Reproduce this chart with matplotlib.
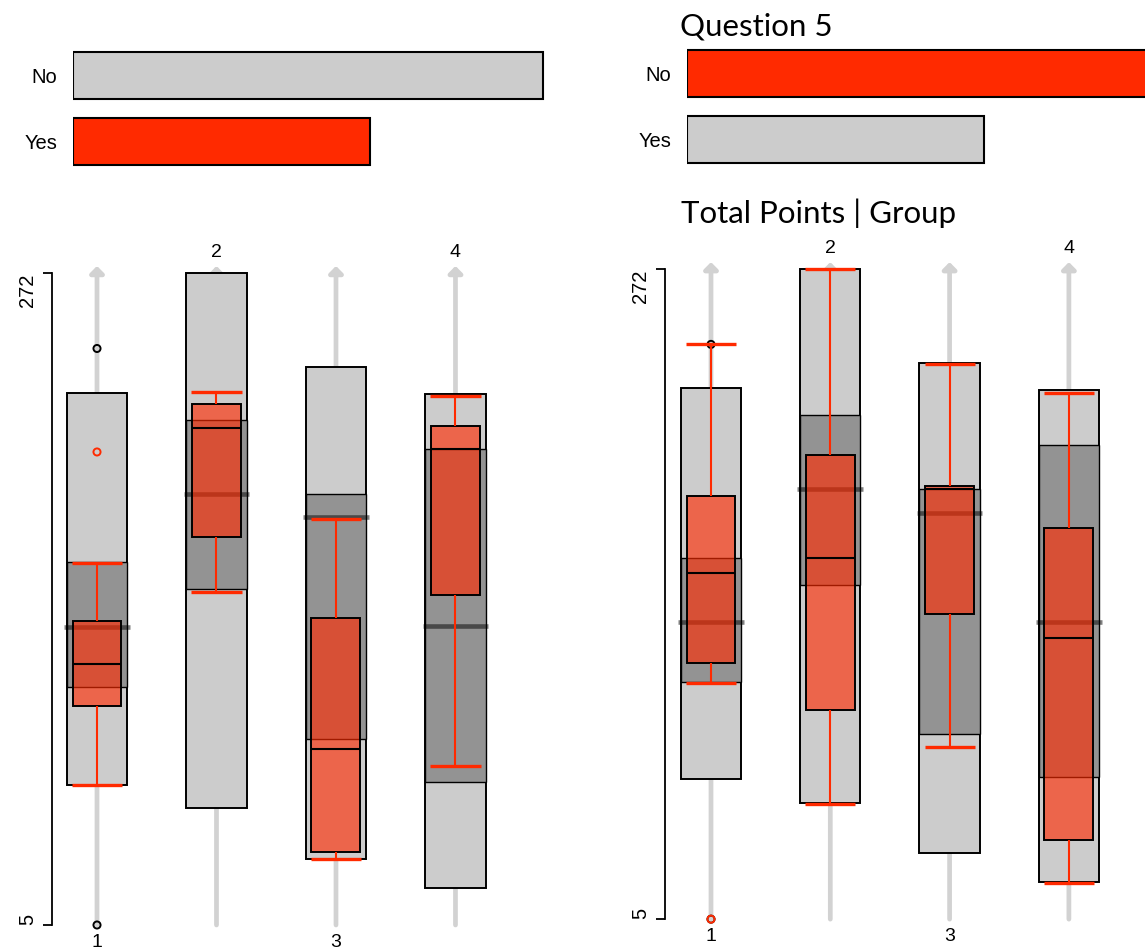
import numpy as np
import matplotlib.pyplot as plt

plt.rcParams['font.family'] = ['Liberation Sans', 'DejaVu Sans']

# Question 5 answer counts
answers = ["Yes", "No"]
answer_counts = [12, 19]

groups = [1, 2, 3, 4]
group_labels = ["1", "2", "3", "4"]

# Total Points by group, all respondents (whisker ends, quartiles, median)
all_low = [62.5, 52.8, 32.1, 20.2]
all_q1 = [102.6, 142.5, 81.0, 63.4]
all_med = [127.2, 181.7, 172.1, 127.3]
all_q3 = [153.6, 212.1, 181.6, 200.0]
all_high = [223.1, 272.0, 233.6, 222.5]
all_out = [[241.2, 5.0], [], [], []]

# respondents answering "Yes"
yes_low = [62.4, 141.6, 31.9, 70.3]
yes_q1 = [94.7, 164.1, 34.8, 140.2]
yes_med = [112.1, 208.7, 77.1, 199.9]
yes_q3 = [129.7, 218.3, 130.6, 209.6]
yes_high = [153.4, 223.5, 171.5, 221.8]
yes_out = [[198.8], [], [], []]

# respondents answering "No"
no_low = [101.9, 52.3, 75.7, 19.7]
no_q1 = [110.3, 91.1, 130.4, 37.4]
no_med = [147.1, 153.5, 181.8, 120.7]
no_q3 = [179.1, 195.9, 183.2, 165.7]
no_high = [241.3, 272.0, 233.3, 221.4]
no_out = [[5.0], [], [], []]

y_min, y_max = 5, 272

RED = '#ff2a00'
RED_BOX = (1.0, 0.165, 0.0, 0.63)
LIGHT = '#cccccc'
DARK = '#939393'
ARROW = '#d2d2d2'

W, H = 1145, 950
fig = plt.figure(figsize=(W / 100, H / 100), dpi=100)


def px_axes(left, top, right, bottom):
    return fig.add_axes([left / W, 1 - bottom / H, (right - left) / W, (bottom - top) / H])


def bar_panel(ax, highlight):
    cols = [RED if a == highlight else LIGHT for a in answers]
    ax.barh([0, 1], answer_counts, height=0.71, color=cols, edgecolor='black', linewidth=1.5)
    ax.set_xlim(0, 20)
    ax.set_ylim(-0.5, 1.5)
    ax.set_yticks([0, 1])
    ax.set_yticklabels(answers, fontsize=14.5)
    ax.tick_params(axis='y', length=0, pad=11.5)
    ax.set_xticks([])
    for s in ax.spines.values():
        s.set_visible(False)


def box_panel(ax, low, q1, med, q3, high, out):
    g = np.array(groups, dtype=float)
    # grey guide arrows for each group
    for x in groups:
        ax.annotate('', xy=(x, 275), xytext=(x, y_min),
                    arrowprops=dict(arrowstyle='-|>,head_length=0.4,head_width=0.4',
                                    color=ARROW, lw=3.4, shrinkA=0, shrinkB=0),
                    zorder=1, annotation_clip=False)
    # whole sample: whisker range and interquartile range
    ax.bar(g, np.subtract(all_high, all_low), bottom=all_low, width=0.506,
           color=LIGHT, edgecolor='black', linewidth=1.4, zorder=2)
    ax.bar(g, np.subtract(all_q3, all_q1), bottom=all_q1, width=0.506,
           color=DARK, edgecolor='black', linewidth=1.0, zorder=3)
    ax.hlines(all_med, g - 0.275, g + 0.275, colors='black', alpha=0.5, lw=3.3, zorder=4)
    for x, pts in zip(groups, all_out):
        if pts:
            ax.scatter([x] * len(pts), pts, s=26, facecolors='none', edgecolors='black',
                       linewidths=1.4, zorder=4, clip_on=False)
    # selected answer
    ax.bar(g, np.subtract(q3, q1), bottom=q1, width=0.41,
           color=RED_BOX, edgecolor='black', linewidth=1.4, zorder=5)
    ax.hlines(med, g - 0.205, g + 0.205, colors='black', lw=1.5, zorder=6)
    ax.vlines(g, low, q1, colors=RED, lw=1.5, zorder=6)
    ax.vlines(g, q3, high, colors=RED, lw=1.5, zorder=6)
    ax.hlines(low, g - 0.21, g + 0.21, colors=RED, lw=2.4, zorder=6)
    ax.hlines(high, g - 0.21, g + 0.21, colors=RED, lw=2.4, zorder=6)
    for x, pts in zip(groups, out):
        if pts:
            ax.scatter([x] * len(pts), pts, s=26, facecolors='none', edgecolors=RED,
                       linewidths=1.4, zorder=7, clip_on=False)
    # group labels alternate between bottom and top
    for x, lab in zip(groups, group_labels):
        if x % 2:
            ax.annotate(lab, xy=(x, y_min), xytext=(0, -9), textcoords='offset pixels',
                        ha='center', va='top', fontsize=14, annotation_clip=False)
        else:
            ax.annotate(lab, xy=(x, y_max), xytext=(0, 12), textcoords='offset pixels',
                        ha='center', va='bottom', fontsize=14, annotation_clip=False)
    ax.set_ylim(-5, 282)
    ax.spines['left'].set_bounds(y_min, y_max)
    ax.spines['left'].set_linewidth(1.3)
    for s in ['top', 'right', 'bottom']:
        ax.spines[s].set_visible(False)
    ax.set_xticks([])
    ax.set_yticks([y_min, y_max])
    ax.set_yticklabels([str(y_min), str(y_max)], rotation=90, fontsize=14.5)
    for lab, va in zip(ax.get_yticklabels(), ['bottom', 'top']):
        lab.set_va(va)
    ax.tick_params(axis='y', length=6.7, width=1.3, pad=4)


# left side: "Yes" highlighted
ax1 = px_axes(73, 42.4, 567.8, 174.4)
bar_panel(ax1, "Yes")
ax2 = px_axes(52, 248.9, 521.2, 949.4)
ax2.set_xlim(0.6234, 4.55)
box_panel(ax2, yes_low, yes_q1, yes_med, yes_q3, yes_high, yes_out)

# right side: "No" highlighted
ax3 = px_axes(687, 40.9, 1181.7, 172.9)
bar_panel(ax3, "No")
ax4 = px_axes(665, 245.1, 1134.5, 943.5)
ax4.set_xlim(0.6144, 4.55)
box_panel(ax4, no_low, no_q1, no_med, no_q3, no_high, no_out)

fig.text(680 / W, 1 - 36 / H, "Question 5", fontsize=22.5, family=['Lato', 'DejaVu Sans'],
         va='baseline', ha='left')
fig.text(681 / W, 1 - 223 / H, "Total Points | Group", fontsize=22.5,
         family=['Lato', 'DejaVu Sans'], va='baseline', ha='left')

fig.savefig('out.png', dpi=100)
